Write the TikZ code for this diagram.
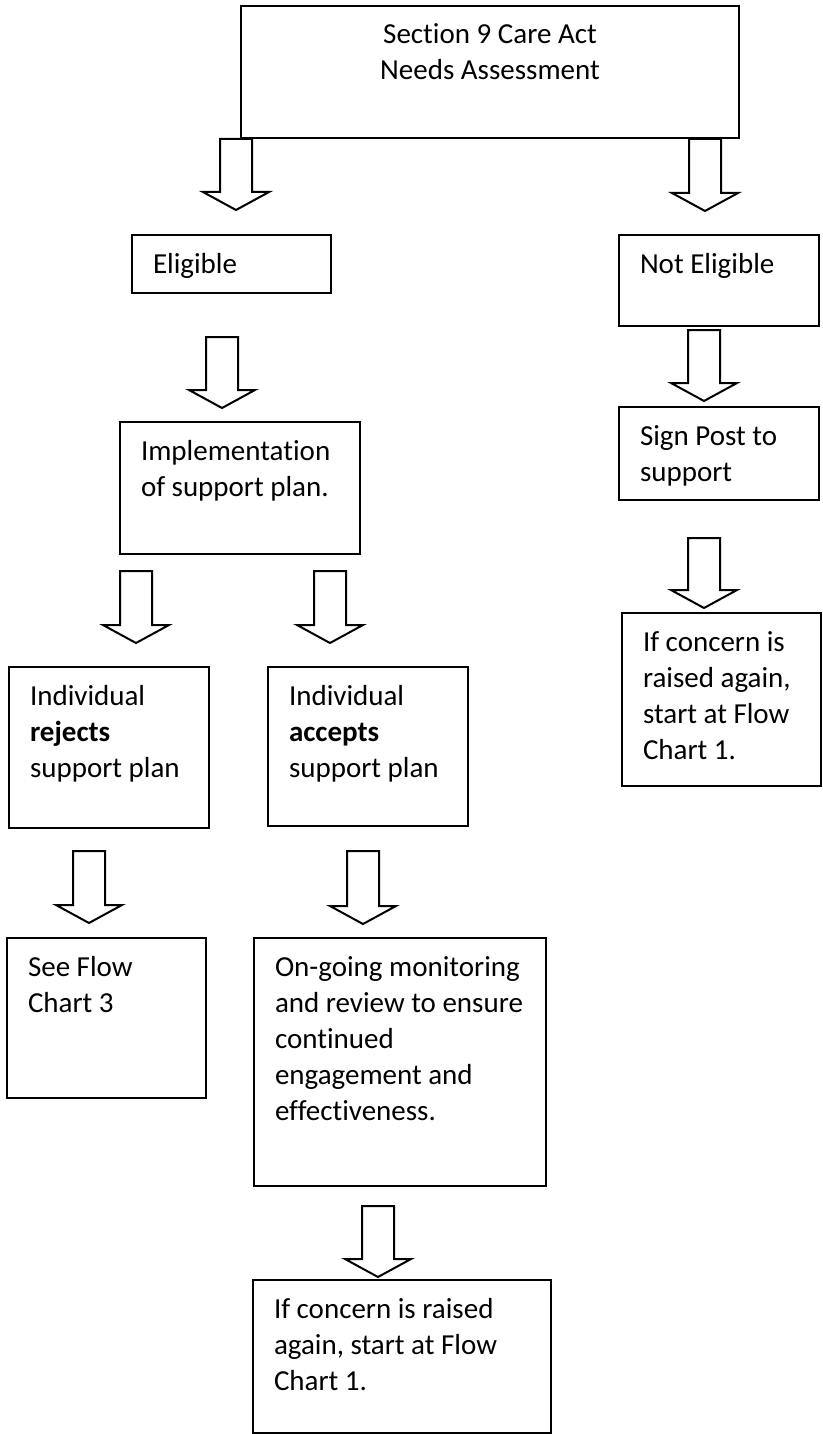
\documentclass[tikz,border=0pt]{standalone}
\usepackage{fontspec}
\setmainfont{Carlito}[Ligatures=NoCommon]
\usetikzlibrary{calc,positioning}

\tikzset{
  box/.style={draw, line width=2pt, anchor=north west, align=flush left, inner xsep=21pt, inner ysep=0pt, text height=38pt},
  fat/.style={draw, fill=white, line width=2pt, to path={let \p1=(\tikztostart), \p2=(\tikztotarget) in
    (\x1-16pt,\y1) -- (\x1-16pt,\y2+18pt) -- (\x1-33pt,\y2+18pt) -- (\x1,\y2)
    -- (\x1+33pt,\y2+18pt) -- (\x1+16pt,\y2+18pt) -- (\x1+16pt,\y1) -- cycle}}
}

\begin{document}
\begin{tikzpicture}[x=1pt,y=-1pt,font=\fontsize{29}{36}\selectfont]
 \useasboundingbox (0,0) rectangle (822,1434);

 \node[box, align=flush center, text width=456pt, text depth=94pt] (need) at (240,5) {Section 9 Care Act\\Needs Assessment};

 \node[box, text width=157pt, text depth=20pt] (elig) at (131,234) {Eligible};
 \node[box, text width=158pt, text depth=53pt] (nelig) at (618,234) {Not Eligible};
 \node[box, text width=198pt, text depth=94pt] (impl) at (119,421) {Implementation\\of support plan.};
 \node[box, text width=158pt, text depth=55pt] (signp) at (618,406) {Sign Post to\\support};
 \node[box, text width=157pt, text depth=135pt] (again1) at (621,612) {If concern is\\raised again,\\start at Flow\\Chart 1.};

 \node[box, text width=158pt, text depth=123pt] (rej) at (8,666) {Individual\\\textbf{rejects}\\support plan};
 \node[box, text width=158pt, text depth=121pt] (acc) at (267,666) {Individual\\\textbf{accepts}\\support plan};
 \node[box, text width=157pt, text depth=122pt] (seef) at (6,937) {See Flow\\Chart 3};
 \node[box, text width=250pt, text depth=210pt] (ongo) at (253,937) {On-going monitoring\\and review to ensure\\continued\\engagement and\\effectiveness.};
 \node[box, text width=256pt, text depth=115pt] (again2) at (252,1279) {If concern is raised\\again, start at Flow\\Chart 1.};

 \draw[fat] ([xshift=-4pt]need.south west) to ([yshift=24pt]elig.north);
 \draw[fat] ([xshift=-35pt]need.south east) to ([yshift=23pt]nelig.north);
 \draw[fat] ([xshift=-9.5pt,yshift=-43pt]elig.south) to ([yshift=13pt]impl.north);
 \draw[fat] ([xshift=-15pt,yshift=-3pt]nelig.south) to ([yshift=5pt]signp.north);
 \draw[fat] ([xshift=-15pt,yshift=-37pt]signp.south) to ([yshift=4pt]again1.north);
 \draw[fat] ([xshift=17pt,yshift=-16pt]impl.south west) to ([yshift=23pt]rej.north);
 \draw[fat] ([xshift=-31pt,yshift=-16pt]impl.south east) to ([yshift=23pt]acc.north);
 \draw[fat] ([xshift=-20pt,yshift=-22pt]rej.south) to ([yshift=14pt]seef.north);
 \draw[fat] ([xshift=-5pt,yshift=-24pt]acc.south) to ([yshift=13pt]ongo.north);
 \draw[fat] ([xshift=-22pt,yshift=-19pt]ongo.south) to ([yshift=2pt]again2.north);
\end{tikzpicture}
\end{document}
